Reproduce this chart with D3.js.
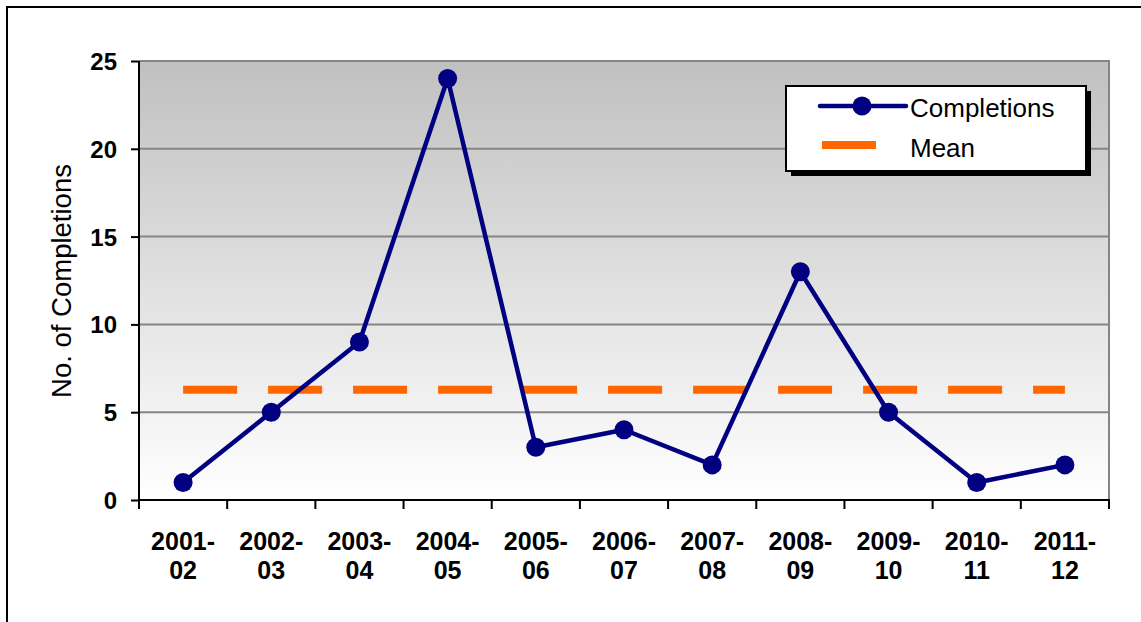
<!DOCTYPE html>
<html>
<head>
<meta charset="utf-8">
<script src="https://cdn.jsdelivr.net/npm/d3@7"></script>
<style>
  html, body { margin: 0; padding: 0; background: #fff; }
  svg { display: block; font-family: "Liberation Sans", Arial, sans-serif; }
</style>
</head>
<body>
<svg id="chart" width="1141" height="622"></svg>
<script>
// Completions per academic year
const years = ["2001-02", "2002-03", "2003-04", "2004-05", "2005-06", "2006-07",
               "2007-08", "2008-09", "2009-10", "2010-11", "2011-12"];
const completions = [1, 5, 9, 24, 3, 4, 2, 13, 5, 1, 2];
const yTicks = [0, 5, 10, 15, 20, 25];
const meanValue = d3.mean(completions);

const svg = d3.select("#chart");
const plot = { left: 139, right: 1109, top: 61, bottom: 500 };

// Outer frame
svg.append("rect")
  .attr("x", 7).attr("y", 7).attr("width", 1160).attr("height", 640)
  .attr("fill", "none").attr("stroke", "#000").attr("stroke-width", 2);

const x = d3.scaleBand().domain(years).range([plot.left, plot.right]);
const y = d3.scaleLinear().domain([0, 25]).range([plot.bottom, plot.top]);

// Plot background gradient
const defs = svg.append("defs");
const grad = defs.append("linearGradient").attr("id", "bg")
  .attr("x1", 0).attr("y1", 0).attr("x2", 0).attr("y2", 1);
grad.append("stop").attr("offset", "0%").attr("stop-color", "#c0c0c0");
grad.append("stop").attr("offset", "100%").attr("stop-color", "#ffffff");

svg.append("rect")
  .attr("x", plot.left).attr("y", plot.top)
  .attr("width", plot.right - plot.left).attr("height", plot.bottom - plot.top)
  .attr("fill", "url(#bg)");

// Horizontal gridlines
svg.append("g").selectAll("line")
  .data(yTicks.filter(d => d > 0))
  .join("line")
  .attr("x1", plot.left).attr("x2", plot.right)
  .attr("y1", d => y(d)).attr("y2", d => y(d))
  .attr("stroke", "#858585").attr("stroke-width", 2);

// Right border of the plot area
svg.append("line")
  .attr("x1", plot.right).attr("x2", plot.right)
  .attr("y1", plot.top - 1).attr("y2", plot.bottom)
  .attr("stroke", "#858585").attr("stroke-width", 2);

// Y axis
const yAxis = svg.append("g")
  .attr("transform", `translate(${plot.left},0)`)
  .call(d3.axisLeft(y).tickValues(yTicks).tickSize(8).tickPadding(14));
yAxis.select(".domain").attr("stroke", "#000").attr("stroke-width", 2)
  .attr("d", `M0,${plot.bottom + 1}V${plot.top}`);
yAxis.selectAll(".tick line").attr("stroke", "#000").attr("stroke-width", 2);
yAxis.selectAll(".tick text")
  .attr("font-size", 24).attr("font-weight", "bold").attr("fill", "#000")
  .attr("dy", "0.35em");

// X axis: ticks sit on category boundaries
const boundaries = years.map(d => x(d)).concat([plot.right]);
svg.append("line")
  .attr("x1", plot.left).attr("x2", plot.right + 1)
  .attr("y1", plot.bottom).attr("y2", plot.bottom)
  .attr("stroke", "#000").attr("stroke-width", 2);
svg.append("g").selectAll("line")
  .data(boundaries)
  .join("line")
  .attr("x1", d => d).attr("x2", d => d)
  .attr("y1", plot.bottom).attr("y2", plot.bottom + 9)
  .attr("stroke", "#000").attr("stroke-width", 2);

const xLabels = svg.append("g").selectAll("text")
  .data(years)
  .join("text")
  .attr("x", d => x(d) + x.bandwidth() / 2)
  .attr("text-anchor", "middle")
  .attr("font-size", 25).attr("font-weight", "bold").attr("fill", "#000");
xLabels.append("tspan")
  .attr("x", d => x(d) + x.bandwidth() / 2).attr("y", 550)
  .text(d => d.split("-")[0] + "-");
xLabels.append("tspan")
  .attr("x", d => x(d) + x.bandwidth() / 2).attr("y", 579)
  .text(d => d.split("-")[1]);

// Y axis title
svg.append("text")
  .attr("transform", "translate(71,281) rotate(-90)")
  .attr("text-anchor", "middle")
  .attr("font-size", 27.5).attr("fill", "#000")
  .text("No. of Completions");

const cx = d => x(d) + x.bandwidth() / 2;

// Mean line
svg.append("line")
  .attr("x1", cx(years[0])).attr("x2", cx(years[years.length - 1]))
  .attr("y1", y(meanValue)).attr("y2", y(meanValue))
  .attr("stroke", "#ff6600").attr("stroke-width", 8)
  .attr("stroke-dasharray", "54,31");

// Completions line and markers
const line = d3.line().x((d, i) => cx(years[i])).y(d => y(d));
svg.append("path")
  .datum(completions)
  .attr("d", line)
  .attr("fill", "none").attr("stroke", "#000080").attr("stroke-width", 4.5)
  .attr("stroke-linejoin", "round");
svg.append("g").selectAll("circle")
  .data(completions)
  .join("circle")
  .attr("cx", (d, i) => cx(years[i])).attr("cy", d => y(d))
  .attr("r", 9.5).attr("fill", "#000080");

// Legend
const lg = svg.append("g");
lg.append("rect")
  .attr("x", 791).attr("y", 91).attr("width", 300).attr("height", 85)
  .attr("fill", "#000");
lg.append("rect")
  .attr("x", 786).attr("y", 86).attr("width", 300).attr("height", 85)
  .attr("fill", "#fff").attr("stroke", "#000").attr("stroke-width", 2);
lg.append("line")
  .attr("x1", 820).attr("x2", 906).attr("y1", 106).attr("y2", 106)
  .attr("stroke", "#000080").attr("stroke-width", 4.5).attr("stroke-linecap", "round");
lg.append("circle").attr("cx", 862).attr("cy", 106).attr("r", 9.5).attr("fill", "#000080");
lg.append("line")
  .attr("x1", 822).attr("x2", 876).attr("y1", 145).attr("y2", 145)
  .attr("stroke", "#ff6600").attr("stroke-width", 8);
lg.append("text").attr("x", 910).attr("y", 117)
  .attr("font-size", 26).attr("fill", "#000").text("Completions");
lg.append("text").attr("x", 910).attr("y", 157)
  .attr("font-size", 26).attr("fill", "#000").text("Mean");
</script>
</body>
</html>
